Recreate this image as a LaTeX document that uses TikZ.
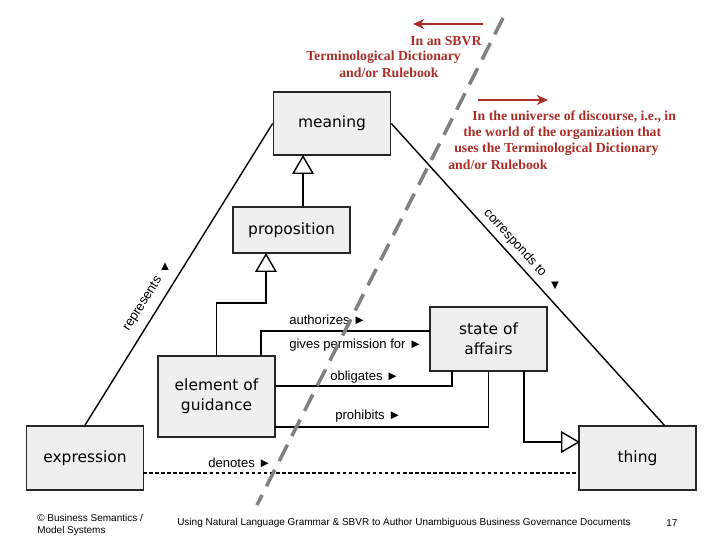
\documentclass[tikz,border=0pt]{standalone}
\usepackage{fontspec}
\setmainfont{Liberation Sans}
\newfontfamily\boxfont{DejaVu Sans}
\newfontfamily\notefont{Liberation Serif}
\usetikzlibrary{arrows.meta}
\definecolor{notered}{RGB}{170,45,40}
\definecolor{boxfill}{RGB}{239,239,239}
\definecolor{splitgray}{RGB}{128,128,128}
\tikzset{
  box/.style={draw=black!85, fill=boxfill, line width=1.2pt, minimum width=117*0.025cm, inner sep=0pt, align=center, font=\boxfont\fontsize{11}{14}\selectfont},
  conn/.style={line width=1pt},
  gen/.style={conn, -{Triangle[open, length=13.5pt, width=15.5pt, line width=1pt]}},
  denote/.style={conn, dash pattern=on 2.5pt off 1.8pt},
  lbl/.style={font=\fontsize{9.3}{11}\selectfont, inner sep=0pt},
  note/.style={font=\notefont\bfseries\fontsize{9.8}{11}\selectfont, text=notered, inner sep=0pt, anchor=west},
  notearrow/.style={draw=notered, line width=1.4pt, -{Stealth[length=8pt, width=7pt]}},
  split/.style={draw=splitgray, line width=2.5pt, dash pattern=on 13pt off 7pt},
  foot/.style={font=\fontsize{7.1}{9}\selectfont, inner sep=0pt, anchor=west}
}
\begin{document}
\begin{tikzpicture}[x=0.025cm, y=-0.025cm]
    \useasboundingbox (0,0) rectangle (720,540);
    % boxes
    \node[box, minimum height=63*0.025cm] (meaning) at (332,123.5) {meaning};
    \node[box, minimum height=46*0.025cm] (proposition) at (291.5,230) {proposition};
    \node[box, minimum height=81*0.025cm] (element) at (216.5,396.5) {element of\\guidance};
    \node[box, minimum height=64*0.025cm] (state) at (488.5,339) {state of\\affairs};
    \node[box, minimum height=64*0.025cm] (expression) at (85,458) {expression};
    \node[box, minimum height=64*0.025cm] (thing) at (637.5,458) {thing};
    % end points of connectors
    \coordinate (thingtop) at (665,426);
    \coordinate (meaningin) at (303,155);
    \coordinate (propin) at (266,253);
    \coordinate (genbend) at (266,303);
    \coordinate (stateout) at (524,371);
    \coordinate (thingin) at (580,442);
    \coordinate (authout) at (261,356);
    \coordinate (authin) at (430,331);
    \coordinate (obligout) at (275,386);
    \coordinate (obligin) at (452,371);
    \coordinate (prohibout) at (275,427);
    \coordinate (denoteout) at (143,473);
    % connectors
    \draw[conn] (expression.north) -- (meaning.west);
    \draw[conn] (meaning.east) -- (thingtop);
    \draw[gen] (proposition.north -| meaningin) -- (meaningin);
    \draw[gen] (element.north) |- (genbend) -- (propin);
    \draw[gen] (stateout) |- (thingin);
    \draw[conn] (authout) |- (authin);
    \draw[conn] (obligout) -| (obligin);
    \draw[conn] (prohibout) -| (state.south);
    \draw[denote] (denoteout) -- (denoteout -| thing.west);
    % labels
    \node[lbl, rotate=57.8] (replbl) at (143,304) {represents};
    \node[lbl] (reptri) at (165,267) {▲};
    \node[lbl, rotate=-47.8] (corrlbl) at (515,243) {corresponds to};
    \node[lbl] (corrtri) at (555,286) {▼};
    \node[lbl, anchor=west] (authlbl) at (289,320) {authorizes ►};
    \node[lbl, anchor=west] (permlbl) at (289,345) {gives permission for ►};
    \node[lbl, anchor=west] (obliglbl) at (330,377) {obligates ►};
    \node[lbl, anchor=west] (prohiblbl) at (335,416) {prohibits ►};
    \node[lbl, anchor=west] (denotelbl) at (208,463) {denotes ►};
    % notes on either side of the split
    \coordinate (leftfrom) at (483,24);
    \coordinate (leftto) at (413,24);
    \coordinate (rightfrom) at (478,100);
    \coordinate (rightto) at (548,100);
    \draw[notearrow] (leftfrom) -- (leftto);
    \draw[notearrow] (rightfrom) -- (rightto);
    \node[note] (sbvr1) at (410,41) {In an SBVR};
    \node[note] (sbvr2) at (306,57) {Terminological Dictionary};
    \node[note] (sbvr3) at (339,73) {and/or Rulebook};
    \node[note] (uod1) at (472,117) {In the universe of discourse, i.e., in};
    \node[note] (uod2) at (463,133) {the world of the organization that};
    \node[note] (uod3) at (454,149) {uses the Terminological Dictionary};
    \node[note] (uod4) at (448,165) {and/or Rulebook};
    \coordinate (splittop) at (503,18);
    \coordinate (splitbot) at (257,505);
    \draw[split] (splittop) -- (splitbot);
    % footer
    \node[foot] (copy1) at (37,518) {© Business Semantics /};
    \node[foot] (copy2) at (37,531) {Model Systems};
    \node[foot] (title) at (177,523) {Using Natural Language Grammar \& SBVR to Author Unambiguous Business Governance Documents};
    \node[foot] (page) at (666,523) {17};
\end{tikzpicture}
\end{document}
